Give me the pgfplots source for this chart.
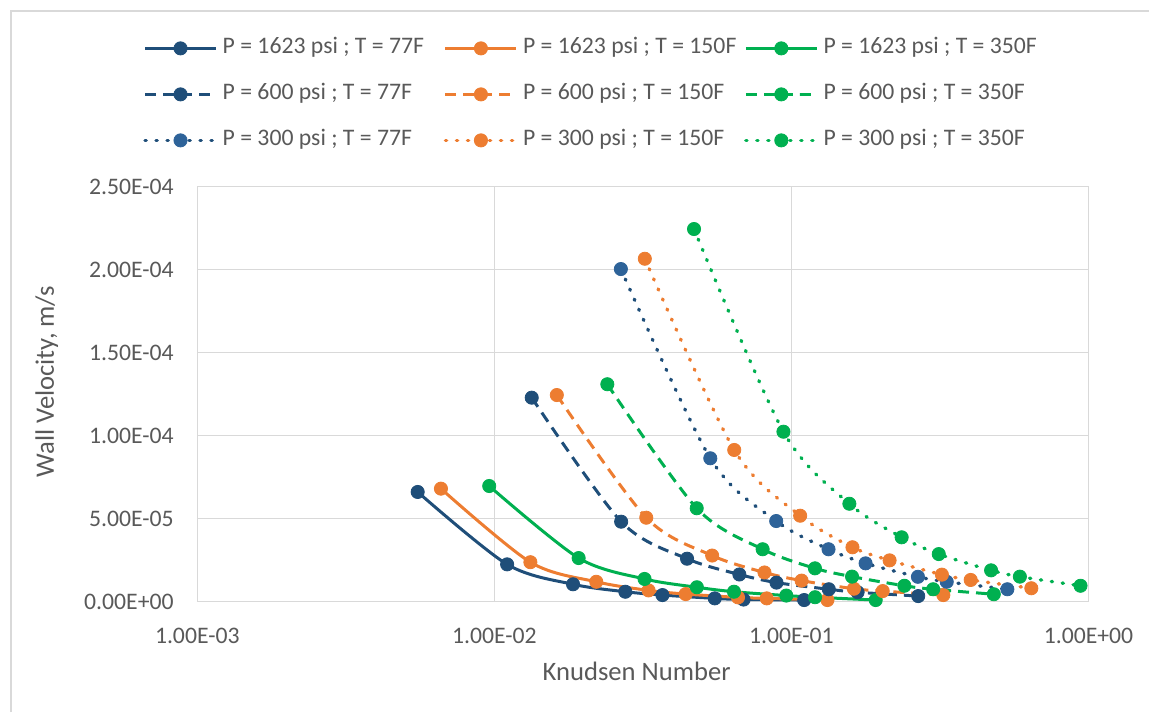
\documentclass[border=0pt]{standalone}
\usepackage{fontspec}
\setmainfont{Carlito}
\usepackage{pgfplots}
\pgfplotsset{compat=1.18}
\definecolor{cblue}{HTML}{1F4E79}
\definecolor{cblueL}{HTML}{2E6399}
\definecolor{corange}{HTML}{ED7D31}
\definecolor{cgreen}{HTML}{00B050}
\definecolor{cgrid}{HTML}{D9D9D9}
\definecolor{ctext}{HTML}{595959}
\tikzset{
  solidS/.style={solid, line width=1.5pt},
  dashS/.style={line width=1.5pt, dash pattern=on 5.5pt off 3.5pt},
  dotS/.style={line width=1.7pt, line cap=round, dash pattern=on 0.6pt off 4.9pt},
}
\pgfplotsset{
  ser/.style={smooth, mark=*, mark size=3.3pt, color=#1,
    mark options={solid, line width=0.4pt, fill=#1, draw=#1}},
}
\begin{document}
\begin{tikzpicture}
\path[use as bounding box] (0,0) rectangle (574.5pt,356pt);
\draw[cgrid, line width=1pt] (5.5pt,0pt) -- (5.5pt,350.65pt) -- (574.5pt,350.65pt);
\begin{axis}[
  at={(98.65pt,55.15pt)}, anchor=south west,
  width=445.6pt, height=207.5pt, scale only axis,
  xmode=log, xmin=1e-3, xmax=1, ymin=0, ymax=2.5e-4,
  xtick={1e-3,1e-2,1e-1,1},
  xticklabels={1.00E-03,1.00E-02,1.00E-01,1.00E+00},
  ytick={0,5e-5,1e-4,1.5e-4,2e-4,2.5e-4},
  yticklabels={0.00E+00,5.00E-05,1.00E-04,1.50E-04,2.00E-04,2.50E-04},
  scaled y ticks=false,
  xminorticks=false,
  major tick length=0pt, minor tick length=0pt,
  axis line style={draw=none},
  grid=major, major grid style={cgrid, line width=0.7pt},
  clip=false,
  tick label style={font=\fontsize{11.85pt}{14pt}\selectfont, text=ctext, inner sep=0pt},
  xticklabel style={anchor=center, yshift=-17.15pt},
  yticklabel style={anchor=east, xshift=-11.65pt},
  xlabel={Knudsen Number},
  ylabel={Wall Velocity, m/s},
  label style={font=\fontsize{13.3pt}{16pt}\selectfont, text=ctext, inner sep=0pt},
  x label style={at={(axis description cs:0.493,-0.1687)}, anchor=center},
  y label style={at={(axis description cs:-0.169,0.5306)}, anchor=center},
  legend columns=3,
  legend cell align=left,
  legend image code/.code={\draw[mark repeat=2,mark phase=2] plot coordinates {(0pt,0pt) (17.75pt,0pt) (35.5pt,0pt)};},
  legend style={
    at={(axis description cs:-0.061,1.362)}, anchor=north west,
    draw=none, fill=none, inner sep=0pt,
    font=\fontsize{11.85pt}{14pt}\selectfont, text=ctext,
    row sep=11.5pt,
    nodes={inner sep=0pt, text height=8.5pt, text depth=3pt},
    /tikz/every odd column/.append style={column sep=2.5pt},
    /tikz/every even column/.append style={column sep=2.5pt},
  },
]
% P = 1623 psi
\addplot[ser=cblue, solidS] coordinates {
(0.00552,6.61e-5) (0.01104,2.25e-5) (0.0184,1.05e-5) (0.0276,6.0e-6)
(0.0368,4.0e-6) (0.0552,2.0e-6) (0.069,1.3e-6) (0.1104,1.0e-6)};
\addlegendentry{\makebox[108pt][l]{P = 1623 psi ; T = 77F}}
\addplot[ser=corange, solidS] coordinates {
(0.00661,6.81e-5) (0.01322,2.38e-5) (0.02203,1.2e-5) (0.03305,6.8e-6)
(0.04407,4.6e-6) (0.0661,2.6e-6) (0.0826,2.0e-6) (0.1322,1.0e-6)};
\addlegendentry{\makebox[108pt][l]{P = 1623 psi ; T = 150F}}
\addplot[ser=cgreen, solidS] coordinates {
(0.00961,6.97e-5) (0.01922,2.63e-5) (0.03203,1.37e-5) (0.04805,8.7e-6)
(0.06407,6.0e-6) (0.0961,3.7e-6) (0.1201,2.7e-6) (0.1922,1.0e-6)};
\addlegendentry{\makebox[108pt][l]{P = 1623 psi ; T = 350F}}
% P = 600 psi
\addplot[ser=cblue, dashS] coordinates {
(0.01336,1.229e-4) (0.02672,4.82e-5) (0.04453,2.59e-5) (0.0668,1.64e-5)
(0.08907,1.15e-5) (0.1336,7.5e-6) (0.167,5.7e-6) (0.2672,3.4e-6)};
\addlegendentry{\makebox[108pt][l]{P = 600 psi ; T = 77F}}
\addplot[ser=corange, dashS] coordinates {
(0.01623,1.245e-4) (0.03246,5.06e-5) (0.0541,2.78e-5) (0.08115,1.76e-5)
(0.1082,1.27e-5) (0.1623,7.8e-6) (0.2029,6.4e-6) (0.3246,4.0e-6)};
\addlegendentry{\makebox[108pt][l]{P = 600 psi ; T = 150F}}
\addplot[ser=cgreen, dashS] coordinates {
(0.024,1.31e-4) (0.048,5.63e-5) (0.08,3.16e-5) (0.12,2.01e-5)
(0.16,1.51e-5) (0.24,9.6e-6) (0.30,7.5e-6) (0.48,4.5e-6)};
\addlegendentry{\makebox[108pt][l]{P = 600 psi ; T = 350F}}
% P = 300 psi
\addplot[smooth, mark=*, mark size=3.3pt, color=cblue, dotS,
  mark options={solid, line width=0.4pt, fill=cblueL, draw=cblueL}] coordinates {
(0.02666,2.004e-4) (0.05332,8.64e-5) (0.08887,4.86e-5) (0.1333,3.16e-5)
(0.1777,2.31e-5) (0.2666,1.5e-5) (0.3333,1.2e-5) (0.5332,7.5e-6)};
\addlegendentry{\makebox[108pt][l]{P = 300 psi ; T = 77F}}
\addplot[ser=corange, dotS] coordinates {
(0.0321,2.066e-4) (0.0642,9.14e-5) (0.107,5.18e-5) (0.1605,3.28e-5)
(0.214,2.49e-5) (0.321,1.63e-5) (0.4013,1.31e-5) (0.642,8.1e-6)};
\addlegendentry{\makebox[108pt][l]{P = 300 psi ; T = 150F}}
\addplot[ser=cgreen, dotS] coordinates {
(0.047,2.245e-4) (0.094,1.024e-4) (0.1567,5.9e-5) (0.235,3.88e-5)
(0.3133,2.87e-5) (0.47,1.89e-5) (0.5875,1.51e-5) (0.94,9.6e-6)};
\addlegendentry{\makebox[108pt][l]{P = 300 psi ; T = 350F}}
\end{axis}
\end{tikzpicture}
\end{document}
